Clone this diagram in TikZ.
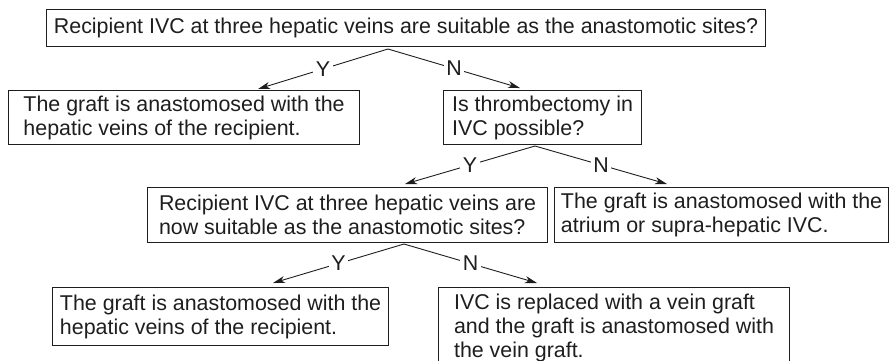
\documentclass[tikz,border=0pt]{standalone}
\usepackage{fontspec}
\setmainfont{Liberation Sans}
\usetikzlibrary{arrows.meta}
\definecolor{ink}{HTML}{1E1E1E}
\begin{document}
\begin{tikzpicture}[x=1pt,y=-1pt,
  every node/.style={font=\fontsize{21.4}{24}\selectfont, text=ink},
  qbox/.style={draw=ink, line width=1.1pt, anchor=north west, align=left,
    inner sep=0pt},
  lbl/.style={fill=white, inner sep=2.5pt, pos=0.5},
  branch/.style={draw=ink, line width=0.9pt,
    -{Stealth[length=12pt,width=7pt,inset=3.5pt]}}]
\path[use as bounding box, clip] (0,0) rectangle (889,360);

% decision and outcome boxes
\node[qbox, minimum width=719pt, minimum height=37pt] (q1) at (46,9)
  {Recipient IVC at three hepatic veins are suitable as the anastomotic sites?};
\node[qbox, minimum width=351pt, minimum height=54pt] (y1) at (8,90)
  {The graft is anastomosed with the\\hepatic veins of the recipient.};
\node[qbox, minimum width=198pt, minimum height=54pt] (q2) at (443,90)
  {Is thrombectomy in\\IVC possible?};
\node[qbox, minimum width=400pt, minimum height=55pt] (q3) at (147,187)
  {Recipient IVC at three hepatic veins are\\now suitable as the anastomotic sites?};
\node[qbox, minimum width=334pt, minimum height=55pt] (n2) at (554,187)
  {The graft is anastomosed with the\\atrium or supra-hepatic IVC.};
\node[qbox, minimum width=336pt, minimum height=58pt] (y3) at (52,287)
  {The graft is anastomosed with the\\hepatic veins of the recipient.};
\node[qbox, minimum width=351pt, minimum height=80pt] (n3) at (438,287)
  {IVC is replaced with a vein graft\\and the graft is anastomosed with\\the vein graft.};

% branch points and arrow ends
\coordinate (a1) at (388,49);
\coordinate (a1y) at (258,89);
\coordinate (a1n) at (520,88);
\coordinate (a2) at (535,146);
\coordinate (a2y) at (405,184);
\coordinate (a2n) at (667,184);
\coordinate (a3) at (404,244);
\coordinate (a3y) at (273,283);
\coordinate (a3n) at (537,283);

\draw[branch] (a1) -- node[lbl]{Y} (a1y);
\draw[branch] (a1) -- node[lbl]{N} (a1n);
\draw[branch] (a2) -- node[lbl]{Y} (a2y);
\draw[branch] (a2) -- node[lbl]{N} (a2n);
\draw[branch] (a3) -- node[lbl]{Y} (a3y);
\draw[branch] (a3) -- node[lbl]{N} (a3n);
\end{tikzpicture}
\end{document}
